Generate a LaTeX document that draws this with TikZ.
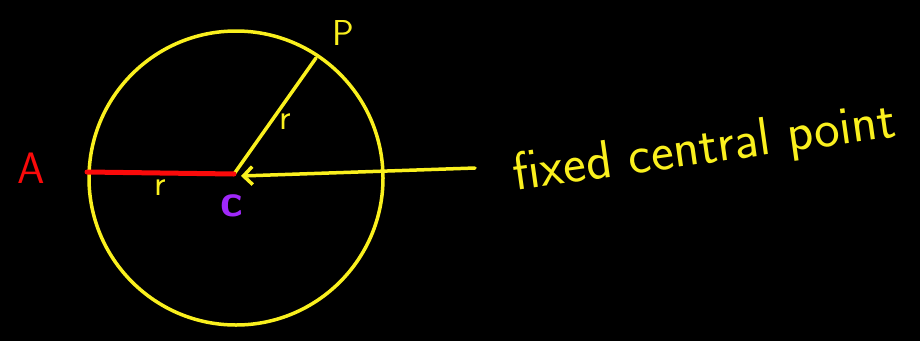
\documentclass[tikz,border=0pt]{standalone}
\usepackage{fontspec}
\usetikzlibrary{arrows.meta}
\definecolor{chalkyellow}{RGB}{250,240,30}
\definecolor{chalkred}{RGB}{250,10,10}
\definecolor{chalkpurple}{RGB}{160,40,250}
\begin{document}
\begin{tikzpicture}[x=1pt,y=-1pt,line cap=round,line join=round,
	chalk/.style={draw=chalkyellow,line width=3.5pt},
	lbl/.style={font=\sffamily\fontsize{36}{36}\selectfont}]
			\fill[black] (0,0) rectangle (920,341);
			\useasboundingbox (0,0) rectangle (920,341);
			\coordinate (c) at (234,174);
			\coordinate (a) at (87,172);
			\coordinate (p) at (316,58);
			\coordinate (e) at (475,168);
			\draw[chalk] (236,178) circle(147);
			\draw[chalk] (c)--(p) node[pos=.45,right=4pt,text=chalkyellow,lbl]{r};
			\draw[draw=chalkred,line width=5pt] (a)--(c) node[pos=.5,below=1pt,text=chalkyellow,lbl]{r};
			\draw[chalk,-{Straight Barb[length=9pt,width=18pt]}] (e)--(241,176);
			\node[text=chalkred,font=\sffamily\fontsize{44}{44}\selectfont] (A) at (31,168) {A};
			\node[text=chalkpurple,font=\sffamily\bfseries\fontsize{46}{46}\selectfont] (C) at (232,206) {c};
			\node[text=chalkyellow,font=\sffamily\fontsize{36}{36}\selectfont] (P) at (343,33) {P};
			\node[text=chalkyellow,rotate=8,font=\sffamily\fontsize{54}{54}\selectfont] (T) at (705,150) {fixed central point};
		\end{tikzpicture}
\end{document}
